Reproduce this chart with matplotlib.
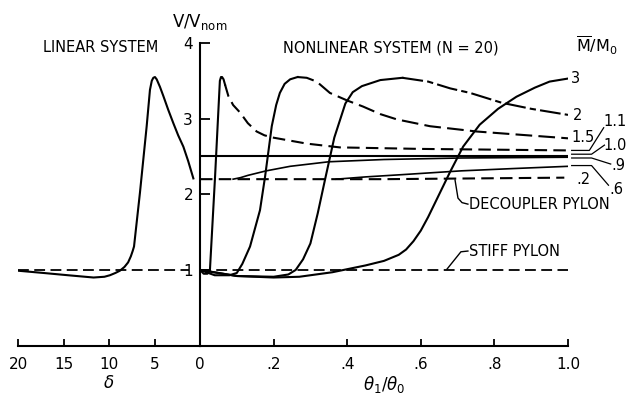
import matplotlib
matplotlib.use("Agg")
import matplotlib.pyplot as plt

plt.rcParams['font.family'] = ['DejaVu Sans']
plt.rcParams['mathtext.fontset'] = 'dejavusans'

# linear system (delta axis, reversed)
lin_delta = [20, 17.2, 14.5, 11.7, 10.5, 9.9, 9.3, 8.8, 8.3, 7.9, 7.6, 7.4, 7.25, 6.6, 5.86, 5.5, 5.3,
             5.13, 4.95, 4.76, 4.4, 4.03, 3.5, 2.93, 2.4, 1.83, 1.3, 0.73]
lin_v = [0.99, 0.96, 0.93, 0.90, 0.91, 0.93, 0.96, 0.99, 1.04, 1.1, 1.18, 1.25, 1.31, 2.02, 2.9, 3.38, 3.5,
         3.54, 3.55, 3.52, 3.42, 3.3, 3.12, 2.94, 2.78, 2.63, 2.44, 2.21]
lin_stiff_delta = [20, 1.2]
lin_stiff_v = [1.0, 1.0]

# nonlinear system (theta1/theta0)
stiff_th = [0, 1.0]
stiff_v = [1.0, 1.0]

m02_th = [0, 0.5, 0.99]
m02_v = [2.2, 2.2, 2.22]

m06_th = [0.37, 0.45, 0.55, 0.71, 0.85, 1.0]
m06_v = [2.2, 2.23, 2.26, 2.31, 2.34, 2.37]

m09_th = [0.09, 0.11, 0.13, 0.155, 0.18, 0.245, 0.35, 0.5, 0.71, 1.0]
m09_v = [2.2, 2.22, 2.25, 2.28, 2.31, 2.37, 2.43, 2.46, 2.48, 2.49]

m10_th = [0, 1.0]
m10_v = [2.51, 2.51]

m11_rise_th = [0, 0.01, 0.02, 0.027, 0.041, 0.054, 0.057, 0.06, 0.064, 0.068]
m11_rise_v = [1.0, 0.95, 0.95, 1.0, 2.24, 3.5, 3.55, 3.55, 3.52, 3.45]
m11_fall_th = [0.068, 0.077, 0.09, 0.109, 0.13, 0.154, 0.175, 0.198, 0.29, 0.38, 0.6, 1.0]
m11_fall_v = [3.45, 3.3, 3.18, 3.08, 2.94, 2.83, 2.78, 2.75, 2.67, 2.62, 2.6, 2.58]

m15_rise_th = [0, 0.04, 0.08, 0.1, 0.115, 0.136, 0.163, 0.177, 0.195, 0.207, 0.217, 0.23, 0.245, 0.265]
m15_rise_v = [1.0, 0.93, 0.93, 0.96, 1.08, 1.31, 1.79, 2.24, 2.9, 3.18, 3.34, 3.46, 3.52, 3.55]
m15_fall_th = [0.265, 0.29, 0.317, 0.353, 0.4, 0.443, 0.49, 0.535, 0.625, 0.752, 1.0]
m15_fall_v = [3.55, 3.54, 3.49, 3.34, 3.24, 3.16, 3.06, 2.99, 2.9, 2.83, 2.74]

m20_rise_th = [0, 0.1, 0.2, 0.24, 0.26, 0.28, 0.3, 0.32, 0.34, 0.365, 0.395, 0.415, 0.44, 0.49, 0.55]
m20_rise_v = [1.0, 0.92, 0.91, 0.94, 1.0, 1.14, 1.35, 1.75, 2.2, 2.75, 3.2, 3.35, 3.43, 3.51, 3.54]
m20_fall_th = [0.55, 0.62, 0.68, 0.734, 0.82, 0.9, 1.0]
m20_fall_v = [3.54, 3.49, 3.4, 3.34, 3.21, 3.13, 3.05]

m30_th = [0, 0.1, 0.2, 0.27, 0.36, 0.45, 0.5, 0.54, 0.56, 0.58, 0.6, 0.62, 0.64, 0.68, 0.715, 0.76,
          0.81, 0.86, 0.91, 0.95, 1.0]
m30_v = [1.0, 0.92, 0.9, 0.91, 0.97, 1.06, 1.12, 1.2, 1.27, 1.38, 1.52, 1.7, 1.9, 2.3, 2.63, 2.92,
         3.13, 3.29, 3.41, 3.49, 3.53]

left_ticks = [20, 15, 10, 5, 0]
left_ticklabels = ['20', '15', '10', '5', '0']
right_ticks = [0.2, 0.4, 0.6, 0.8, 1.0]
right_ticklabels = ['.2', '.4', '.6', '.8', '1.0']
y_ticks = [1, 2, 3, 4]

# end labels: (text, x, y)
end_labels = [('3', 1.008, 3.53), ('2', 1.012, 3.04), ('1.5', 1.008, 2.75),
              ('1.1', 1.095, 2.96), ('1.0', 1.097, 2.65), ('.9', 1.118, 2.38),
              ('.2', 1.024, 2.19), ('.6', 1.112, 2.06)]

W, H = 631, 400
fig = plt.figure(figsize=(W / 100, H / 100), dpi=100)
bot = 1 - 345.6 / H
hgt = (345.6 - 43) / H
axl = fig.add_axes([18 / W, bot, (200 - 18) / W, hgt])
axr = fig.add_axes([200 / W, bot, 368 / W, hgt])

lw = 1.5
dash = (6, 3)
fs = 10.5

# ---- left: linear system
axl.plot(lin_delta, lin_v, color='black', lw=lw)
axl.plot(lin_stiff_delta, lin_stiff_v, color='black', lw=1.3, dashes=dash)
axl.set_xlim(20, 0)
axl.set_ylim(0, 4)
for s in ['top', 'right', 'left']:
    axl.spines[s].set_visible(False)
axl.spines['bottom'].set_linewidth(lw)
axl.set_xticks(left_ticks)
axl.set_xticklabels(left_ticklabels, fontsize=11)
axl.set_yticks([])
axl.tick_params(axis='x', direction='in', length=5, width=1.3, pad=8)
axl.set_xlabel(r'$\delta$', fontsize=12, labelpad=2)
axl.patch.set_alpha(0)
axl.text(0.14, 0.97, 'LINEAR SYSTEM', transform=axl.transAxes, fontsize=fs)

# ---- right: nonlinear system
k = 'black'
axr.plot(stiff_th, stiff_v, color=k, lw=1.3, dashes=dash)
axr.plot(m02_th, m02_v, color=k, lw=lw, dashes=dash)
axr.plot(m06_th, m06_v, color=k, lw=1.2)
axr.plot(m09_th, m09_v, color=k, lw=1.2)
axr.plot(m10_th, m10_v, color=k, lw=lw)
axr.plot(m11_rise_th, m11_rise_v, color=k, lw=lw)
axr.plot(m11_fall_th, m11_fall_v, color=k, lw=lw, dashes=dash)
axr.plot(m15_rise_th, m15_rise_v, color=k, lw=lw)
axr.plot(m15_fall_th, m15_fall_v, color=k, lw=lw, dashes=(8, 3))
axr.plot(m20_rise_th, m20_rise_v, color=k, lw=lw)
axr.plot(m20_fall_th, m20_fall_v, color=k, lw=lw, dashes=(10, 2, 3, 2))
axr.plot(m30_th, m30_v, color=k, lw=lw)

axr.set_xlim(0, 1.0)
axr.set_ylim(0, 4)
for s in ['top', 'right']:
    axr.spines[s].set_visible(False)
axr.spines['left'].set_linewidth(lw)
axr.spines['bottom'].set_linewidth(lw)
axr.set_xticks(right_ticks)
axr.set_xticklabels(right_ticklabels, fontsize=11)
axr.set_yticks(y_ticks)
axr.set_yticklabels([str(t) for t in y_ticks], fontsize=11)
axr.tick_params(axis='x', direction='in', length=5, width=1.3, pad=8)
axr.tick_params(axis='y', direction='in', length=7, width=1.3, pad=5)
axr.set_xlabel(r'$\theta_1/\theta_0$', fontsize=12, labelpad=2)
axr.patch.set_alpha(0)

axr.text(0.225, 0.97, 'NONLINEAR SYSTEM (N = 20)', transform=axr.transAxes, fontsize=fs)
axr.text(1.022, 0.97, r'$\overline{\rm M}/{\rm M}_0$', transform=axr.transAxes, fontsize=11.5, clip_on=False)
fig.text(200 / W, 1 - 22 / H, r'V/V$_{\rm nom}$', fontsize=12, ha='center', va='center')

for txt, x, y in end_labels:
    axr.text(x, y, txt, fontsize=fs, ha='left', va='center', clip_on=False)

# leader lines to the labels on the right
leaders = [([1.010, 1.058, 1.097], [2.58, 2.58, 2.88]),
           ([1.010, 1.064, 1.099], [2.53, 2.53, 2.65]),
           ([1.010, 1.064, 1.116], [2.48, 2.48, 2.40]),
           ([1.010, 1.064, 1.110], [2.38, 2.38, 2.12])]
for lx, ly in leaders:
    axr.plot(lx, ly, color=k, lw=0.9, clip_on=False)

# callouts
axr.plot([0.693, 0.701, 0.712, 0.728], [2.19, 1.95, 1.89, 1.87], color=k, lw=1.0)
axr.text(0.731, 1.87, 'DECOUPLER PYLON', fontsize=fs, va='center', clip_on=False)
axr.plot([0.671, 0.709, 0.728], [1.01, 1.24, 1.25], color=k, lw=1.0)
axr.text(0.731, 1.24, 'STIFF PYLON', fontsize=fs, va='center', clip_on=False)

fig.savefig('out.png', dpi=100)
